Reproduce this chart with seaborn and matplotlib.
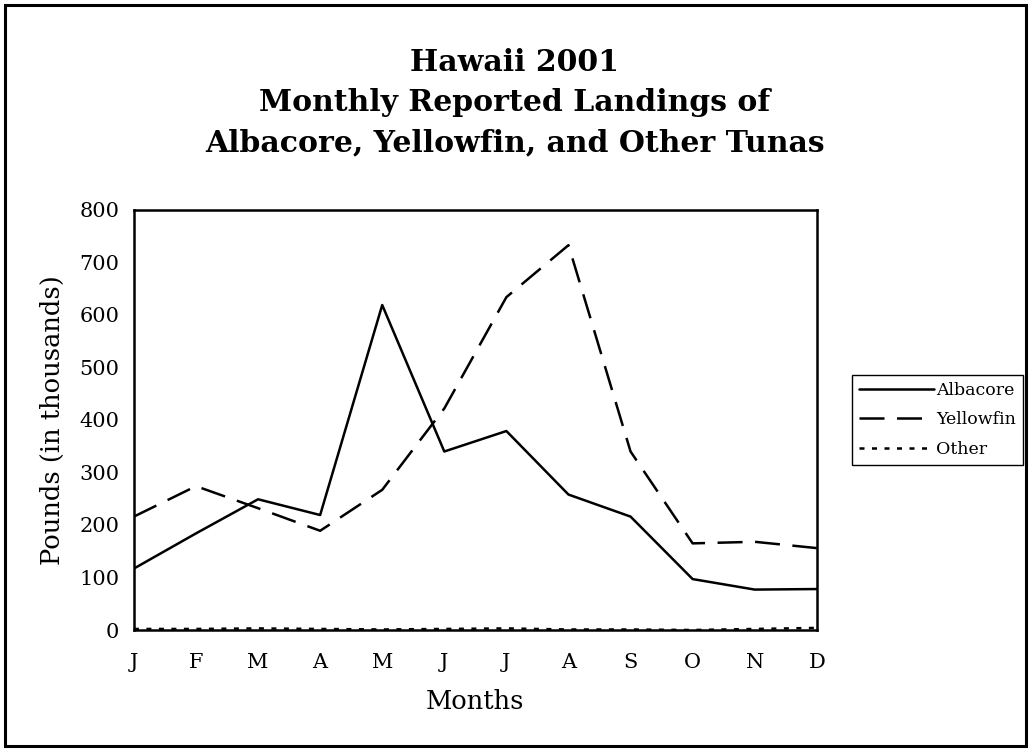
import pandas as pd
import matplotlib
matplotlib.use("Agg")
import matplotlib.pyplot as plt
from matplotlib.patches import Rectangle
import seaborn as sns

months = ["J", "F", "M", "A", "M", "J", "J", "A", "S", "O", "N", "D"]
albacore = [117, 184, 249, 219, 619, 340, 379, 258, 216, 97, 77, 78]
yellowfin = [216, 274, 232, 189, 267, 422, 634, 733, 340, 165, 168, 156]
other = [2, 2, 3, 2, 1, 2, 3, 1, 1, 0, 2, 4]

# long format for seaborn
df = pd.DataFrame({
    "month": list(range(len(months))) * 3,
    "pounds": albacore + yellowfin + other,
    "species": ["Albacore"] * 12 + ["Yellowfin"] * 12 + ["Other"] * 12,
})

sns.set_style("white")
plt.rcParams["font.family"] = ["DejaVu Serif"]
plt.rcParams["text.color"] = "black"
plt.rcParams["axes.labelcolor"] = "black"

fig = plt.figure(figsize=(10.3, 7.5), dpi=100)
ax = fig.add_axes([0.130, 0.16, 0.663, 0.56])

sns.lineplot(data=df, x="month", y="pounds", style="species", color="black",
             dashes={"Albacore": "", "Yellowfin": (10, 5), "Other": (2, 3)},
             linewidth=1.8, ax=ax, legend=True)

ax.set_xlim(0, 11)
ax.set_ylim(0, 800)
ax.set_xticks(range(len(months)))
ax.set_xticklabels(months)
ax.set_yticks(range(0, 801, 100))
ax.tick_params(axis="both", direction="inout", length=9, width=1.5, labelsize=15,
               colors="black")
ax.tick_params(axis="x", pad=12)
ax.tick_params(axis="y", pad=6)
for s in ax.spines.values():
    s.set_color("black")
    s.set_linewidth(1.8)
ax.set_xlabel("Months", fontsize=18.5, labelpad=12)
ax.set_ylabel("Pounds (in thousands)", fontsize=18.5, labelpad=10)

leg = ax.legend(loc="center left", bbox_to_anchor=(852 / 1030, 0.44),
                bbox_transform=fig.transFigure, fontsize=12.5, frameon=True,
                fancybox=False, framealpha=1, edgecolor="black",
                handlelength=4.3, borderpad=0.4, labelspacing=0.7,
                handletextpad=0.15, borderaxespad=0)
leg.get_frame().set_linewidth(1.0)
for line in leg.get_lines():
    line.set_linewidth(1.8)

fig.text(0.5, 0.863, "Hawaii 2001\nMonthly Reported Landings of\nAlbacore, Yellowfin, and Other Tunas",
         ha="center", va="center", fontsize=21.5, fontweight="bold", linespacing=1.5)

# outer frame around the whole picture
fig.patches.append(Rectangle((5 / 1030, 4 / 750), 1021 / 1030, 741 / 750,
                             transform=fig.transFigure, fill=False,
                             edgecolor="black", linewidth=2.2))

fig.savefig("out.png", dpi=100)
